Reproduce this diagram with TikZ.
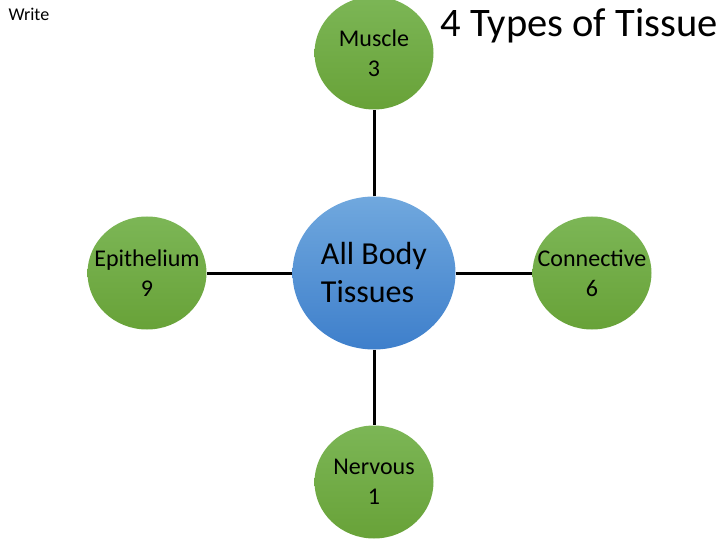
\documentclass[tikz,border=0pt]{standalone}
\usepackage{fontspec}
\setmainfont{Carlito}
\usepackage{xcolor}
\usepackage{tikz}
\usetikzlibrary{shapes.geometric}
\definecolor{leaftop}{RGB}{124,182,86}
\definecolor{leafbot}{RGB}{104,162,56}
\definecolor{hubtop}{RGB}{112,168,222}
\definecolor{hubbot}{RGB}{62,127,203}

\begin{document}
\begin{tikzpicture}[x=1pt, y=-1pt,
      every node/.style={font=\fontsize{24}{30}\selectfont},
      blob/.style={ellipse, minimum width=119pt, minimum height=113pt,
                   inner sep=0pt, top color=leaftop, bottom color=leafbot,
                   label={[align=center]center:#1}},
      hub/.style={ellipse, minimum width=163pt, minimum height=153pt,
                  inner sep=0pt, top color=hubtop, bottom color=hubbot,
                  label={[align=left, font=\fontsize{32}{38}\selectfont]center:#1}},
      spoke/.style={draw=black, line width=3pt}]
    \useasboundingbox (0,0) rectangle (720,540);
    \node[hub={All Body\\Tissues}] (c) at (374,273) {};
    \node[blob={Muscle\\3}] (m) at (374,53) {};
    \node[blob={Epithelium\\9}] (e) at (147,273) {};
    \node[blob={Connective\\6}] (k) at (592,273) {};
    \node[blob={Nervous\\1}] (n) at (374,482) {};
    \draw[spoke] (c) -- (m);
    \draw[spoke] (c) -- (e);
    \draw[spoke] (c) -- (k);
    \draw[spoke] (c) -- (n);
    % heading and note
    \node[font=\fontsize{40.5}{48}\selectfont] (t) at (579,26) {4 Types of Tissue};
    \node[font=\fontsize{18}{21}\selectfont, anchor=west] (w) at (5,14) {Write};
  \end{tikzpicture}
\end{document}
